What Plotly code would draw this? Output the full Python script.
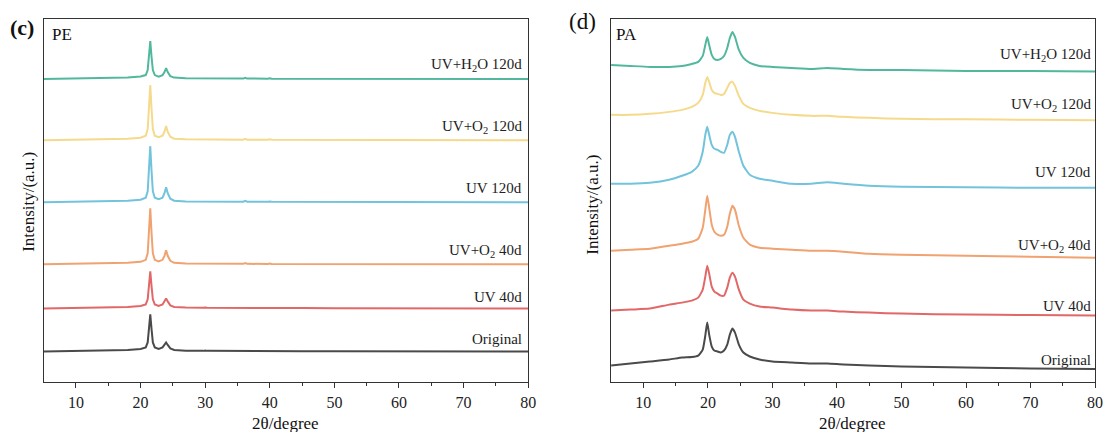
import plotly.graph_objects as go

# ---------------- data ----------------
SAMPLES = ["Original", "UV 40d", "UV+O2 40d", "UV 120d", "UV+O2 120d", "UV+H2O 120d"]
LABELS = ["Original", "UV 40d", "UV+O<sub>2</sub> 40d", "UV 120d",
          "UV+O<sub>2</sub> 120d", "UV+H<sub>2</sub>O 120d"]
COLORS = ["#4a4a4a", "#e26767", "#f0a271", "#72c3dc", "#f5da8c", "#52b89d"]

# PE diffraction patterns (stacked intensity, a.u.)
PE_2THETA = [5, 10, 15, 18, 20, 20.8, 21.1, 21.3, 21.5, 21.7, 21.9, 22.2, 22.8, 23.4,
             23.7, 23.95, 24.2, 24.6, 25.2, 27, 29.7, 30, 30.3, 35.9, 36.2, 36.5,
             39.7, 40, 40.3, 45, 50, 60, 70, 80]
PE_ORIGINAL = [30, 30.3, 30.8, 31.5, 32.5, 34, 39, 52, 67, 52, 39, 34, 32.5, 34, 36.5, 39,
               36.5, 33, 31.5, 30.8, 30.6, 31.0, 30.6, 30.5, 31.2, 30.5, 30.4, 30.8, 30.4,
               30.3, 30.2, 30.1, 30, 30]
PE_UV40 = [73, 73.3, 73.8, 74.5, 75.5, 77, 82, 95, 110, 95, 82, 77, 75.5, 77, 80, 83, 80,
           76, 74.5, 73.8, 73.6, 74.0, 73.6, 73.5, 74.2, 73.5, 73.4, 73.8, 73.4, 73.3, 73.2,
           73.1, 73, 73]
PE_UVO2_40 = [117, 117.3, 117.8, 118.5, 119.5, 121.5, 128, 148, 173, 148, 128, 121.5, 120,
              121.5, 125.5, 131, 125.5, 120.5, 118.5, 117.8, 117.6, 118.0, 117.6, 117.5,
              118.3, 117.5, 117.4, 117.8, 117.4, 117.3, 117.2, 117.1, 117, 117]
PE_UV120 = [179, 179.3, 179.8, 180.5, 181.5, 183.5, 190, 210, 235, 210, 190, 183.5, 182,
            183.5, 188, 194, 188, 182.5, 180.5, 179.8, 179.6, 180.0, 179.6, 179.5, 180.3,
            179.5, 179.4, 179.8, 179.4, 179.3, 179.2, 179.1, 179, 179]
PE_UVO2_120 = [241, 241.3, 241.8, 242.5, 243.5, 245.5, 252, 272, 296, 272, 252, 245.5, 244,
               245.5, 249.5, 255, 249.5, 244.5, 242.5, 241.8, 241.6, 242.0, 241.6, 241.5,
               242.3, 241.5, 241.4, 241.8, 241.4, 241.3, 241.2, 241.1, 241, 241]
PE_UVH2O_120 = [302, 302.3, 302.8, 303.5, 304.5, 306, 311, 324, 340, 324, 311, 306, 304.5,
                306, 309, 313, 309, 305, 303.5, 302.8, 302.6, 303.0, 302.6, 302.5, 303.2,
                302.5, 302.4, 302.8, 302.4, 302.3, 302.2, 302.1, 302, 302]

# PA diffraction patterns (stacked intensity, a.u.)
PA_2THETA = [5, 8, 11, 14, 16, 17.5, 18.5, 19.2, 19.6, 19.9, 20.2, 20.6, 21.0, 21.5, 22.0,
             22.5, 23.0, 23.4, 23.8, 24.2, 24.8, 25.5, 26.5, 28, 30, 33, 36, 38.5, 41, 45,
             50, 60, 70, 80]
PA_ORIGINAL = [16, 18, 20, 22, 24, 24.5, 26, 32, 46, 59, 47, 35, 31, 30, 29, 31, 37, 47, 53,
               49, 37, 29, 25, 22, 20, 19, 18, 18, 17, 16, 15, 14, 13, 12.5]
PA_UV40 = [71, 72, 73, 77, 79, 81, 84, 92, 105, 116, 108, 95, 90, 88, 86, 86, 94, 104, 109,
           105, 92, 82, 78, 75, 74, 72, 71, 71, 70, 69, 68, 67, 66.5, 66]
PA_UVO2_40 = [131, 132, 133, 136, 138, 140, 143, 154, 172, 186, 174, 157, 150, 147, 146,
              147, 155, 168, 176, 172, 156, 144, 137, 134, 133, 132, 131, 131, 130, 128,
              127, 126, 125, 124]
PA_UV120 = [198, 198, 199, 202, 206, 210, 216, 230, 247, 255, 247, 237, 233, 232, 230, 229,
            237, 247, 250, 245, 230, 216, 207, 203, 201, 198, 198, 199.5, 198, 196, 195,
            194.5, 194, 194]
PA_UVO2_120 = [267, 267, 268, 270, 272, 275, 279, 287, 299, 305, 300, 292, 289, 288, 287,
               288, 294, 299, 300, 296, 286, 278, 274, 271, 269, 267, 266, 266, 265, 264,
               263, 262.5, 262, 261.5]
PA_UVH2O_120 = [317, 316, 315, 315, 316, 318, 320, 326, 337, 345, 337, 327, 323, 322, 323,
                326, 334, 344, 350, 345, 332, 324, 319, 316, 315, 314, 313, 314, 313, 312,
                312, 311, 311, 310.5]

PE_SERIES = [PE_ORIGINAL, PE_UV40, PE_UVO2_40, PE_UV120, PE_UVO2_120, PE_UVH2O_120]
PA_SERIES = [PA_ORIGINAL, PA_UV40, PA_UVO2_40, PA_UV120, PA_UVO2_120, PA_UVH2O_120]

# label heights (same intensity units as the curves)
PE_LABEL_Y = [42, 84, 130, 193, 254, 316]
PA_LABEL_Y = [22, 76, 136, 210, 277, 327]

X_TICKS = [10, 20, 30, 40, 50, 60, 70, 80]

# ---------------- figure ----------------
FONT = "Liberation Serif, Times New Roman, serif"
W, H = 1115, 432

fig = go.Figure()
for name, ys, c in zip(SAMPLES, PE_SERIES, COLORS):
    fig.add_trace(go.Scatter(x=PE_2THETA, y=ys, mode="lines", name=name,
                             line=dict(color=c, width=2), xaxis="x", yaxis="y",
                             showlegend=False, hoverinfo="skip"))
for name, ys, c in zip(SAMPLES, PA_SERIES, COLORS):
    fig.add_trace(go.Scatter(x=PA_2THETA, y=ys, mode="lines", name=name,
                             line=dict(color=c, width=2, shape="spline", smoothing=0.5),
                             xaxis="x2", yaxis="y2", showlegend=False, hoverinfo="skip"))

y_dom = [1 - 381.5 / H, 1 - 19 / H]
xcommon = dict(range=[5, 80], tickvals=X_TICKS, ticks="outside", ticklen=5, tickwidth=1.2,
               tickcolor="#333", showline=True, linecolor="#333", linewidth=1.3,
               mirror=True, showgrid=False, zeroline=False, ticklabelstandoff=1,
               tickfont=dict(family=FONT, size=16, color="#222"),
               minor=dict(tickvals=[15, 25, 35, 45, 55, 65, 75], ticks="outside",
                          ticklen=3, tickwidth=1.2, tickcolor="#333"))
ycommon = dict(showline=True, linecolor="#333", linewidth=1.3, mirror=True,
               showgrid=False, zeroline=False, showticklabels=False, ticks="")

fig.update_layout(
    width=W, height=H, margin=dict(l=0, r=0, t=0, b=0),
    paper_bgcolor="white", plot_bgcolor="white",
    xaxis=dict(domain=[44 / W, 532 / W], anchor="y", **xcommon),
    yaxis=dict(domain=y_dom, range=[0, 362], anchor="x", **ycommon),
    xaxis2=dict(domain=[615.5 / W, 1103 / W], anchor="y2", **xcommon),
    yaxis2=dict(domain=y_dom, range=[0, 363], anchor="x2", **ycommon),
)

ann = []
for lab, ly in zip(LABELS, PE_LABEL_Y):
    ann.append(dict(x=79.4, y=ly, xref="x", yref="y", text=lab, showarrow=False,
                    xanchor="right", yanchor="middle",
                    font=dict(family=FONT, size=15, color="#222")))
for lab, ly in zip(LABELS, PA_LABEL_Y):
    ann.append(dict(x=79.6, y=ly, xref="x2", yref="y2", text=lab, showarrow=False,
                    xanchor="right", yanchor="middle",
                    font=dict(family=FONT, size=15, color="#222")))


def px(xp, yp, text, size, **kw):
    return dict(x=xp / W, y=1 - yp / H, xref="paper", yref="paper", text=text,
                showarrow=False, font=dict(family=FONT, size=size, color="#111"), **kw)


ann += [
    px(22, 27, "<b>(c)</b>", 22, xanchor="center", yanchor="middle"),
    px(587, 21, "(d)", 23, xanchor="center", yanchor="middle"),
    px(50, 35, "PE", 17, xanchor="left", yanchor="middle"),
    px(618, 34, "PA", 17, xanchor="left", yanchor="middle"),
    px(288, 423, "2θ/degree", 17, xanchor="center", yanchor="middle"),
    px(859, 423, "2θ/degree", 17, xanchor="center", yanchor="middle"),
    px(28, 202, "Intensity/(a.u.)", 17, xanchor="center", yanchor="middle", textangle=-90),
    px(597, 205, "Intensity/(a.u.)", 17, xanchor="center", yanchor="middle", textangle=-90),
]
fig.update_layout(annotations=ann)

fig.write_html("out.html")
